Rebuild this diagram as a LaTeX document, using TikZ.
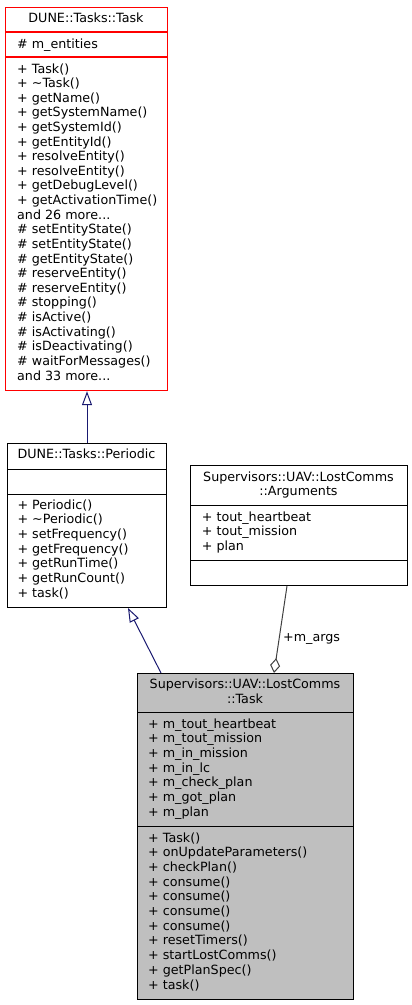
\documentclass[tikz,border=0pt]{standalone}
\usepackage{fontspec}
\setmainfont{DejaVu Sans}
\usetikzlibrary{arrows.meta}
\definecolor{edgeblue}{RGB}{25,25,112}
\definecolor{aggray}{RGB}{64,64,64}
\definecolor{boxgray}{RGB}{191,191,191}
\definecolor{boxred}{RGB}{255,0,0}
\newcommand\mydots{...}
\begin{document}
\begin{tikzpicture}[x=1pt,y=-1pt,
  font=\fontsize{12.7}{14.6}\selectfont,
  classbox/.style={draw, line width=1pt, anchor=north west, inner sep=0pt, fill=white},
  txt/.style={anchor=base west, inner sep=0pt},
  ttl/.style={anchor=base, inner sep=0pt},
  divider/.style={line width=1pt},
  inherit/.style={draw=edgeblue, line width=1pt, -{Triangle[open, length=14pt, width=10pt, fill=white]}},
  aggr/.style={draw=aggray, line width=1pt, -{Diamond[open, length=15pt, width=10pt, fill=white]}},
]
\useasboundingbox (0,0) rectangle (412,1005);

% ---------------- DUNE::Tasks::Task ----------------
\node[classbox, draw=boxred, line width=1.2pt, minimum width=162pt, minimum height=383pt] (task) at (5,7) {};
\draw[divider, boxred, line width=1.2pt] ([yshift=-25pt]task.north west) -- ([yshift=-25pt]task.north east);
\draw[divider, boxred, line width=1.2pt] ([yshift=-50pt]task.north west) -- ([yshift=-50pt]task.north east);
\node[ttl] (task-t) at (86,22) {DUNE::Tasks::Task};
\node[txt] (task-a) at (17,48) {\# m\_entities};
\foreach \s [count=\i from 0] in {{+ Task()},{+ \textasciitilde Task()},{+ getName()},{+ getSystemName()},{+ getSystemId()},{+ getEntityId()},{+ resolveEntity()},{+ resolveEntity()},{+ getDebugLevel()},{+ getActivationTime()},{and 26 more\mydots},{\# setEntityState()},{\# setEntityState()},{\# getEntityState()},{\# reserveEntity()},{\# reserveEntity()},{\# stopping()},{\# isActive()},{\# isActivating()},{\# isDeactivating()},{\# waitForMessages()},{and 33 more\mydots}}
  \node[txt] (task-m\i) at (17,73+\i*14.62) {\s};

% ---------------- DUNE::Tasks::Periodic ----------------
\node[classbox, minimum width=159pt, minimum height=164pt] (periodic) at (7,443) {};
\draw[divider] ([yshift=-26pt]periodic.north west) -- ([yshift=-26pt]periodic.north east);
\draw[divider] ([yshift=-51pt]periodic.north west) -- ([yshift=-51pt]periodic.north east);
\node[ttl] (periodic-t) at (86.5,458) {DUNE::Tasks::Periodic};
\foreach \s [count=\i from 0] in {{+ Periodic()},{+ \textasciitilde Periodic()},{+ setFrequency()},{+ getFrequency()},{+ getRunTime()},{+ getRunCount()},{+ task()}}
  \node[txt] (periodic-m\i) at (17.3,509+\i*14.67) {\s};

% ---------------- Supervisors::UAV::LostComms::Arguments ----------------
\node[classbox, minimum width=217pt, minimum height=120pt] (args) at (190,465) {};
\draw[divider] ([yshift=-40pt]args.north west) -- ([yshift=-40pt]args.north east);
\draw[divider] ([yshift=-95pt]args.north west) -- ([yshift=-95pt]args.north east);
\node[ttl] (args-t1) at (298.5,481) {Supervisors::UAV::LostComms};
\node[ttl] (args-t2) at (298.5,495) {::Arguments};
\foreach \s [count=\i from 0] in {{+ tout\_heartbeat},{+ tout\_mission},{+ plan}}
  \node[txt] (args-a\i) at (201.7,521+\i*14.5) {\s};

% ---------------- Supervisors::UAV::LostComms::Task ----------------
\node[classbox, fill=boxgray, minimum width=216pt, minimum height=326pt] (lc) at (137,673) {};
\draw[divider] ([yshift=-39pt]lc.north west) -- ([yshift=-39pt]lc.north east);
\draw[divider] ([yshift=-153pt]lc.north west) -- ([yshift=-153pt]lc.north east);
\node[ttl] (lc-t1) at (245,688) {Supervisors::UAV::LostComms};
\node[ttl] (lc-t2) at (245,703) {::Task};
\foreach \s [count=\i from 0] in {{+ m\_tout\_heartbeat},{+ m\_tout\_mission},{+ m\_in\_mission},{+ m\_in\_lc},{+ m\_check\_plan},{+ m\_got\_plan},{+ m\_plan}}
  \node[txt] (lc-a\i) at (148,728+\i*14.67) {\s};
\foreach \s [count=\i from 0] in {{+ Task()},{+ onUpdateParameters()},{+ checkPlan()},{+ consume()},{+ consume()},{+ consume()},{+ consume()},{+ resetTimers()},{+ startLostComms()},{+ getPlanSpec()},{+ task()}}
  \node[txt] (lc-m\i) at (148,842+\i*14.7) {\s};

% ---------------- connectors ----------------
\draw[inherit] (periodic.north) -- (periodic.north |- task.south);
\draw[inherit] ([xshift=24pt]lc.north west) -- ([xshift=121pt]periodic.south west);
\draw[aggr] ([xshift=97pt]args.south west) -- ([xshift=137pt]lc.north west);
\node[anchor=west, inner sep=0pt] (margs) at (283,639) {+m\_args};
\end{tikzpicture}
\end{document}
